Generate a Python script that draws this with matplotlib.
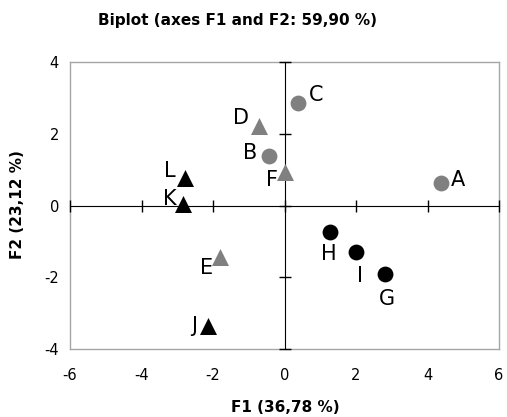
import matplotlib
matplotlib.use("Agg")
import matplotlib.pyplot as plt

plt.rcParams["axes.unicode_minus"] = False

names = ["A", "B", "C", "D", "E", "F", "G", "H", "I", "J", "K", "L"]
f1 = [4.38, -0.44, 0.37, -0.71, -1.80, 0.01, 2.80, 1.28, 2.00, -2.13, -2.85, -2.78]
f2 = [0.62, 1.38, 2.85, 2.21, -1.43, 0.94, -1.91, -0.75, -1.31, -3.36, 0.04, 0.76]
groups = ["gc", "gc", "gc", "gt", "gt", "gt", "bc", "bc", "bc", "bt", "bt", "bt"]
xticks = [-6, -4, -2, 0, 2, 4, 6]
yticks = [-4, -2, 0, 2, 4]

styles = {"gc": ("#808080", "o", 130), "gt": ("#808080", "^", 150),
          "bc": ("#000000", "o", 130), "bt": ("#000000", "^", 150)}
# label offsets in points (dx, dy, ha, va)
offs = {"A": (7, 2, "left", "center"), "B": (-8, 2, "right", "center"),
        "C": (8, 6, "left", "center"), "D": (-7, 6, "right", "center"),
        "E": (-5, -8, "right", "center"), "F": (-5, -6, "right", "center"),
        "G": (2, -11, "center", "top"), "H": (-1, -8, "center", "top"),
        "I": (3, -10, "center", "top"), "J": (-8, 0, "right", "center"),
        "K": (-4, 4, "right", "center"), "L": (-7, 5, "right", "center")}

fig = plt.figure(figsize=(5.07, 4.17), dpi=100)
pos = [70/507, 1-349/417, 429/507, 287/417]
ax = fig.add_axes(pos)
ax.set_xlim(-6, 6)
ax.set_ylim(-4, 4)
ax.set_xticks(xticks)
ax.set_yticks(yticks)
ax.tick_params(length=0, labelsize=10.5, pad=14)
ax.tick_params(axis="y", pad=8)
for s in ax.spines.values():
    s.set_color("#a6a6a6")
    s.set_linewidth(1)

ax2 = fig.add_axes(pos, sharex=ax, sharey=ax)
ax2.patch.set_visible(False)
for k in ["top", "right"]:
    ax2.spines[k].set_visible(False)
ax2.spines["left"].set_position(("data", 0))
ax2.spines["bottom"].set_position(("data", 0))
ax2.spines["left"].set_color("black")
ax2.spines["bottom"].set_color("black")
ax2.tick_params(direction="inout", length=8, width=1, labelleft=False, labelbottom=False)

for n, x, y, g in zip(names, f1, f2, groups):
    c, m, s = styles[g]
    ax2.scatter([x], [y], s=s, c=c, marker=m, zorder=5, linewidths=0)
    dx, dy, ha, va = offs[n]
    ax2.annotate(n, (x, y), xytext=(dx, dy), textcoords="offset points",
                 ha=ha, va=va, fontsize=15, color="black")

fig.text(237/507, 1-20/417, "Biplot (axes F1 and F2: 59,90 %)", ha="center", va="center",
         fontsize=11, fontweight="bold")
fig.text(285/507, 1-408/417, "F1 (36,78 %)", ha="center", va="center",
         fontsize=11, fontweight="bold")
fig.text(18/507, 1-205/417, "F2 (23,12 %)", ha="center", va="center",
         fontsize=11, fontweight="bold", rotation=90)

fig.savefig("out.png", dpi=100)
